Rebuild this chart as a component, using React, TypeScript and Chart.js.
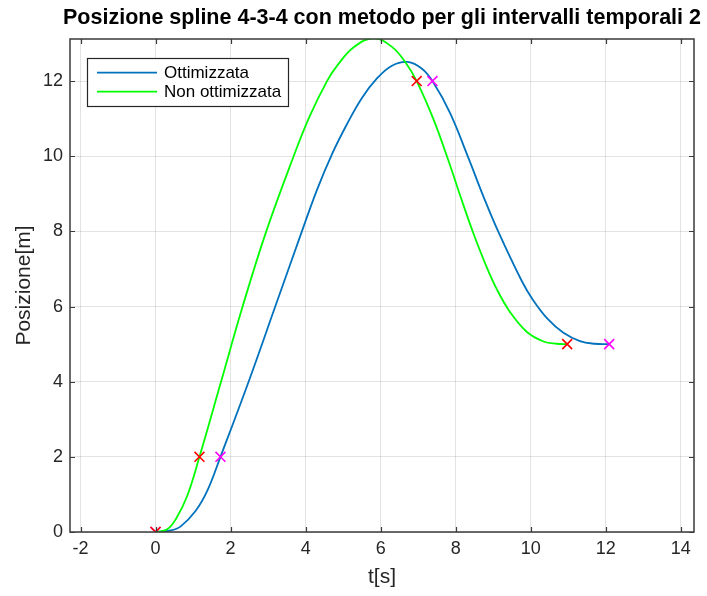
import React, { useEffect, useRef } from "react";
import { Chart, registerables } from "chart.js";

Chart.register(...registerables);

// ---- text ----
const TITLE = "Posizione spline 4-3-4 con metodo per gli intervalli temporali 2";
const X_LABEL = "t[s]";
const Y_LABEL = "Posizione[m]";
const NAME_OPT = "Ottimizzata";
const NAME_NON = "Non ottimizzata";

// ---- axes ----
const xTicks = [-2, 0, 2, 4, 6, 8, 10, 12, 14];
const yTicks = [0, 2, 4, 6, 8, 10, 12];
const X_MIN = -2.28;
const X_MAX = 14.35;
const Y_MIN = 0;
const Y_MAX = 13.12;

// ---- series: optimized (blue) ----
const optT = [0, 0.4, 0.67, 1.06, 1.38, 1.73, 2.48, 3.19, 3.9, 4.3, 4.7, 5.1, 5.5, 5.9, 6.3, 6.72, 7.1, 7.38, 7.85, 8.34, 8.75, 9.14, 9.76, 10.05, 10.45, 10.87, 11.31, 11.7, 12.09];
const optPos = [0, 0.04, 0.15, 0.55, 1.1, 2, 4, 6, 8, 9.1, 10.05, 10.85, 11.55, 12.07, 12.41, 12.51, 12.33, 12, 11.15, 9.95, 8.9, 7.98, 6.68, 6.19, 5.67, 5.3, 5.08, 5.01, 5];

// ---- series: non optimized (green) ----
const nonT = [0, 0.31, 0.55, 0.84, 1.17, 1.76, 2.32, 2.95, 3.68, 4.1, 4.57, 4.84, 5.28, 5.81, 6.3, 6.68, 6.96, 7.4, 7.8, 8.15, 8.47, 8.8, 9.1, 9.45, 9.89, 10.34, 10.69, 10.97];
const nonPos = [0, 0.07, 0.36, 0.95, 2, 4.05, 6, 8, 10, 11.05, 12, 12.41, 12.9, 13.14, 12.91, 12.47, 12, 11.0, 9.9, 8.86, 7.95, 7.11, 6.45, 5.85, 5.33, 5.07, 5.01, 5];

// ---- knots ----
const optKnotT = [0, 1.73, 7.38, 12.09];
const nonKnotT = [0, 1.17, 6.96, 10.97];
const knotPos = [0, 2, 12, 5];

const BLUE = "#0072BD";
const GREEN = "#00FF00";
const RED = "#FF0000";
const MAGENTA = "#FF00FF";
const AXIS = "#262626";
const FONT = "'Liberation Sans', Arial, Helvetica, sans-serif";

const zip = (xs: number[], ys: number[]) => xs.map((x, i) => ({ x, y: ys[i] }));

const boxPlugin = {
  id: "matlabBox",
  afterDatasetsDraw(chart: any) {
    const { ctx, chartArea: a, scales } = chart;
    ctx.save();
    ctx.strokeStyle = "#3a3a3a";
    ctx.lineWidth = 1.5;
    ctx.strokeRect(a.left, a.top, a.right - a.left, a.bottom - a.top);
    ctx.lineWidth = 1.2;
    const tl = 5;
    ctx.beginPath();
    xTicks.forEach((v) => {
      const px = Math.round(scales.x.getPixelForValue(v)) + 0.5;
      ctx.moveTo(px, a.bottom);
      ctx.lineTo(px, a.bottom - tl);
      ctx.moveTo(px, a.top);
      ctx.lineTo(px, a.top + tl);
    });
    yTicks.forEach((v) => {
      const py = Math.round(scales.y.getPixelForValue(v)) + 0.5;
      ctx.moveTo(a.left, py);
      ctx.lineTo(a.left + tl, py);
      ctx.moveTo(a.right, py);
      ctx.lineTo(a.right - tl, py);
    });
    ctx.stroke();
    ctx.restore();
  },
};

const titlePlugin = {
  id: "plotTitle",
  afterDraw(chart: any) {
    const { ctx, chartArea: a } = chart;
    ctx.save();
    ctx.font = `bold 21.5px ${FONT}`;
    ctx.fillStyle = "#000000";
    ctx.textAlign = "center";
    ctx.textBaseline = "middle";
    ctx.fillText(TITLE, (a.left + a.right) / 2, 18);
    ctx.restore();
  },
};

const legendPlugin = {
  id: "insideLegend",
  afterDraw(chart: any) {
    const { ctx, chartArea: a } = chart;
    const lx = a.left + 17;
    const ly = a.top + 19;
    const lw = 201;
    const lh = 48;
    ctx.save();
    ctx.fillStyle = "#ffffff";
    ctx.fillRect(lx, ly, lw, lh);
    ctx.strokeStyle = AXIS;
    ctx.lineWidth = 1.2;
    ctx.strokeRect(lx + 0.5, ly + 0.5, lw, lh);
    const rows = [
      { name: NAME_OPT, color: BLUE, y: ly + 14.7 },
      { name: NAME_NON, color: GREEN, y: ly + 33.7 },
    ];
    ctx.font = `17px ${FONT}`;
    ctx.textBaseline = "middle";
    ctx.textAlign = "left";
    rows.forEach((r) => {
      ctx.strokeStyle = r.color;
      ctx.lineWidth = 1.8;
      ctx.beginPath();
      ctx.moveTo(lx + 10, r.y);
      ctx.lineTo(lx + 70, r.y);
      ctx.stroke();
      ctx.fillStyle = "#000000";
      ctx.fillText(r.name, lx + 77, r.y + 1);
    });
    ctx.restore();
  },
};

export default function App() {
  const ref = useRef<HTMLCanvasElement | null>(null);

  useEffect(() => {
    if (!ref.current) return;
    const chart = new Chart(ref.current, {
      type: "scatter",
      data: {
        datasets: [
          {
            label: NAME_OPT,
            data: zip(optT, optPos),
            showLine: true,
            borderColor: BLUE,
            backgroundColor: BLUE,
            borderWidth: 1.8,
            pointRadius: 0,
            tension: 0.4,
            order: 3,
          },
          {
            label: NAME_NON,
            data: zip(nonT, nonPos),
            showLine: true,
            borderColor: GREEN,
            backgroundColor: GREEN,
            borderWidth: 1.8,
            pointRadius: 0,
            tension: 0.4,
            order: 2,
          },
          {
            label: "Nodi ottimizzata",
            data: zip(optKnotT, knotPos),
            showLine: false,
            pointStyle: "crossRot",
            pointRadius: 7,
            borderColor: MAGENTA,
            backgroundColor: MAGENTA,
            pointBorderWidth: 1.6,
            order: 1,
          },
          {
            label: "Nodi non ottimizzata",
            data: zip(nonKnotT, knotPos),
            showLine: false,
            pointStyle: "crossRot",
            pointRadius: 7,
            borderColor: RED,
            backgroundColor: RED,
            pointBorderWidth: 1.6,
            order: 0,
          },
        ] as any,
      },
      options: {
        responsive: false,
        maintainAspectRatio: false,
        animation: false,
        layout: { padding: { left: 0, right: 13, top: 39, bottom: 0 } },
        plugins: {
          legend: { display: false },
          tooltip: { enabled: false },
          title: { display: false },
        },
        scales: {
          x: {
            type: "linear",
            min: X_MIN,
            max: X_MAX,
            afterBuildTicks: (s: any) => {
              s.ticks = xTicks.map((v) => ({ value: v }));
            },
            afterFit: (s: any) => {
              s.height = 64;
            },
            ticks: {
              color: AXIS,
              font: { family: FONT, size: 18 },
              padding: 6,
              maxRotation: 0,
              callback: (v: any) => String(v),
            },
            grid: { color: "rgba(0,0,0,0.11)", lineWidth: 1, drawTicks: false },
            border: { display: false },
            title: {
              display: true,
              text: X_LABEL,
              color: AXIS,
              font: { family: FONT, size: 21 },
              padding: { top: 0, bottom: 6.4 },
            },
          },
          y: {
            type: "linear",
            min: Y_MIN,
            max: Y_MAX,
            afterBuildTicks: (s: any) => {
              s.ticks = yTicks.map((v) => ({ value: v }));
            },
            afterFit: (s: any) => {
              s.width = 70;
            },
            ticks: {
              color: AXIS,
              font: { family: FONT, size: 18 },
              padding: 7,
              callback: (v: any) => String(v),
            },
            grid: { color: "rgba(0,0,0,0.11)", lineWidth: 1, drawTicks: false },
            border: { display: false },
            title: {
              display: true,
              text: Y_LABEL,
              color: AXIS,
              font: { family: FONT, size: 21 },
              padding: { top: 11.4, bottom: 0 },
            },
          },
        },
      } as any,
      plugins: [boxPlugin, titlePlugin, legendPlugin],
    });
    return () => chart.destroy();
  }, []);

  return (
    <div style={{ position: "absolute", left: 0, top: 0, width: 707, height: 596, background: "#ffffff" }}>
      <canvas ref={ref} width={707} height={596} style={{ display: "block" }} />
    </div>
  );
}
